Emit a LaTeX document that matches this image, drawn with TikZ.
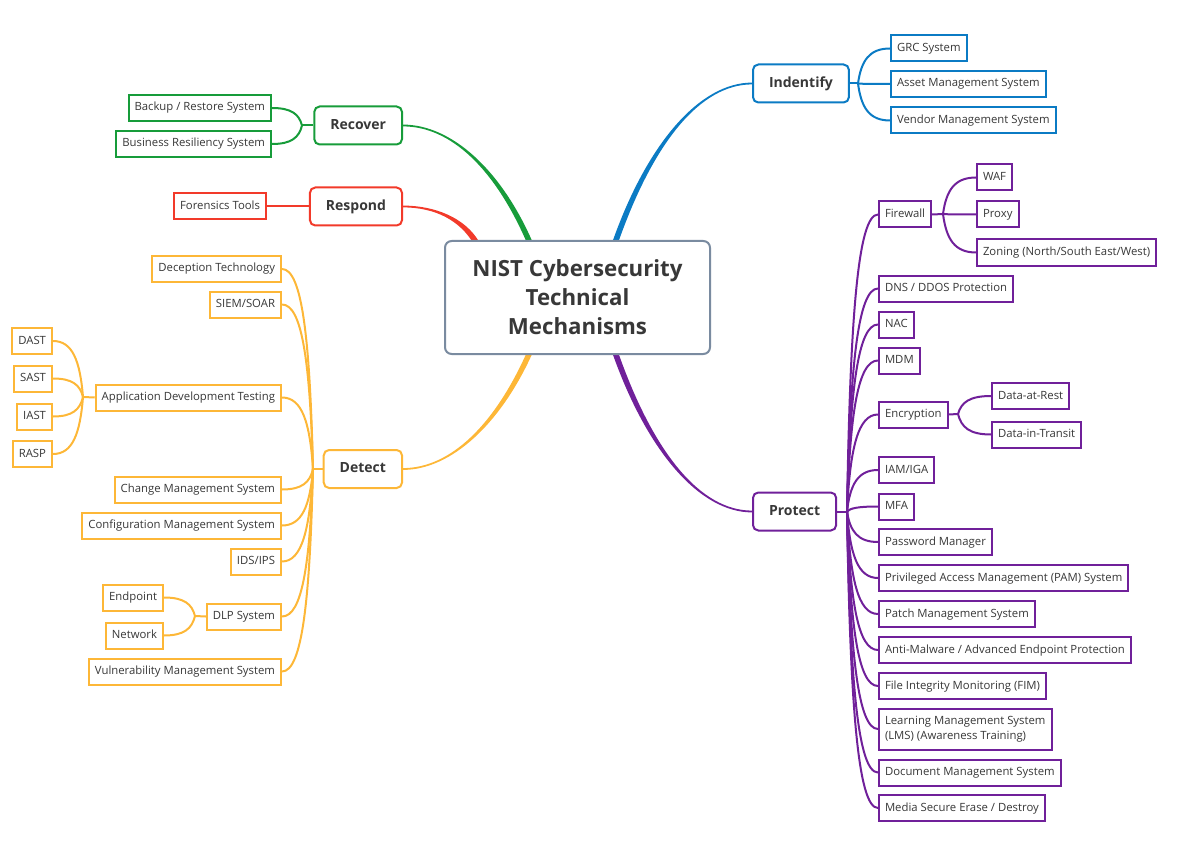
\documentclass[tikz,border=0pt]{standalone}
\usepackage{fontspec}
\setmainfont{Open Sans}
\usetikzlibrary{calc}
\pgfdeclarelayer{bg}
\pgfsetlayers{bg,main}
\definecolor{cblue}{HTML}{0B7BC4}
\definecolor{cpurp}{HTML}{70209A}
\definecolor{cgreen}{HTML}{179C3A}
\definecolor{cred}{HTML}{F23A2A}
\definecolor{corange}{HTML}{FDB737}
\definecolor{cgray}{HTML}{7A8BA0}
\definecolor{ctext}{HTML}{383838}
\newcommand\taper[7]{\fill[#1] ($(#2)+#6$) .. controls ($(#3)+#6$) and ($(#4)+#7$) .. ($(#5)+#7$) -- ($(#5)-#7$) .. controls ($(#4)-#7$) and ($(#3)-#6$) .. ($(#2)-#6$) -- cycle;}
\tikzset{
  subbase/.style={draw=#1, line width=1.5pt, rectangle, fill=white, text=ctext,
    font=\fontsize{8.5pt}{11.25pt}\selectfont, inner xsep=4.5pt, inner ysep=0pt, minimum height=19.5pt},
  sub/.style={subbase=#1, text height=6.3pt, text depth=1.8pt},
  topic/.style={draw=#1, line width=1.5pt, rounded corners=4pt, fill=white, text=ctext,
    font=\fontsize{10.5pt}{12pt}\selectfont\bfseries, inner xsep=12pt, inner ysep=0pt,
    minimum height=28.5pt, text height=7.7pt, text depth=2.2pt},
  conn/.style={draw=#1, line width=1.5pt},
  rbranch/.style={to path={let \p1=(\tikztostart), \p2=(\tikztotarget) in
    .. controls ({\x1+0.1*(\x2-\x1)},{\y2+0.35*(\y1-\y2)}) and ({\x1+0.35*(\x2-\x1)},\y2) .. (\tikztotarget)}},
}
\begin{document}
\begin{tikzpicture}[x=0.75pt,y=-0.75pt]
\useasboundingbox (0,0) rectangle (1200,863);
% central
\node[draw=cgray, line width=1.5pt, rounded corners=5pt, fill=white, minimum width=198.75pt,
  minimum height=84.75pt, align=center, text=ctext,
  font=\fontsize{16.7pt}{21.75pt}\selectfont\bfseries] (c) at (577.5,297.5)
  {NIST Cybersecurity\\Technical\\Mechanisms};
% topics
\node[topic=cblue, anchor=west] (idf) at (752,83.5) {Indentify};
\node[topic=cpurp, anchor=west] (prot) at (752,511.5) {Protect};
\node[topic=cgreen, anchor=east] (rec) at (403,125.5) {Recover};
\node[topic=cred, anchor=east] (resp) at (403,206.5) {Respond};
\node[topic=corange, anchor=east] (det) at (403,469) {Detect};
% stubs
\coordinate (idfs) at (858,83.5);
\coordinate (prots) at (847,511.5);
\coordinate (fws) at (943,214);
\coordinate (encs) at (958,414);
\coordinate (recs) at (302,125.5);
\coordinate (dets) at (313,469);
\coordinate (adts) at (83,397);
\coordinate (dlps) at (195,616);
% identify children
\node[sub=cblue, anchor=west] (grc) at (890,48.5) {GRC System};
\node[sub=cblue, anchor=west] (asset) at (890,84) {Asset Management System};
\node[sub=cblue, anchor=west] (vendor) at (890,120.5) {Vendor Management System};
% protect children
\node[sub=cpurp, anchor=west] (fw) at (878,214.5) {Firewall};
\node[sub=cpurp, anchor=west] (waf) at (976,177.5) {WAF};
\node[sub=cpurp, anchor=west] (proxy) at (976,214.5) {Proxy};
\node[sub=cpurp, anchor=west] (zon) at (976,252.5) {Zoning (North/South East/West)};
\node[sub=cpurp, anchor=west] (dns) at (878,288.5) {DNS / DDOS Protection};
\node[sub=cpurp, anchor=west] (nac) at (878,324.5) {NAC};
\node[sub=cpurp, anchor=west] (mdm) at (878,360.5) {MDM};
\node[sub=cpurp, anchor=west] (enc) at (878,414.5) {Encryption};
\node[sub=cpurp, anchor=west] (dar) at (991,396) {Data-at-Rest};
\node[sub=cpurp, anchor=west] (dit) at (991,434.5) {Data-in-Transit};
\node[sub=cpurp, anchor=west] (iam) at (878,470) {IAM/IGA};
\node[sub=cpurp, anchor=west] (mfa) at (878,506.5) {MFA};
\node[sub=cpurp, anchor=west] (pwm) at (878,542) {Password Manager};
\node[sub=cpurp, anchor=west] (pam) at (878,578) {Privileged Access Management (PAM) System};
\node[sub=cpurp, anchor=west] (patch) at (878,614) {Patch Management System};
\node[sub=cpurp, anchor=west] (am) at (878,650) {Anti-Malware / Advanced Endpoint Protection};
\node[sub=cpurp, anchor=west] (fim) at (878,686) {File Integrity Monitoring (FIM)};
\node[subbase=cpurp, anchor=west, align=left, minimum height=30.75pt] (lms) at (878,729)
  {Learning Management System\\(LMS) (Awareness Training)};
\node[sub=cpurp, anchor=west] (doc) at (878,772.5) {Document Management System};
\node[sub=cpurp, anchor=west] (media) at (878,808) {Media Secure Erase / Destroy};
% recover / respond children
\node[sub=cgreen, anchor=east] (bak) at (272,108) {Backup / Restore System};
\node[sub=cgreen, anchor=east] (bus) at (272,144) {Business Resiliency System};
\node[sub=cred, anchor=east] (for) at (267,206.5) {Forensics Tools};
% detect children
\node[sub=corange, anchor=east] (dec) at (282,269) {Deception Technology};
\node[sub=corange, anchor=east] (siem) at (282,304.5) {SIEM/SOAR};
\node[sub=corange, anchor=east] (adt) at (282,397.5) {Application Development Testing};
\node[sub=corange, anchor=east] (dast) at (53,341) {DAST};
\node[sub=corange, anchor=east] (sast) at (53,378.5) {SAST};
\node[sub=corange, anchor=east] (iast) at (53,416.5) {IAST};
\node[sub=corange, anchor=east] (rasp) at (53,454) {RASP};
\node[sub=corange, anchor=east] (chg) at (282,489.5) {Change Management System};
\node[sub=corange, anchor=east] (cfg) at (282,525.5) {Configuration Management System};
\node[sub=corange, anchor=east] (ids) at (282,561.5) {IDS/IPS};
\node[sub=corange, anchor=east] (dlp) at (282,616.5) {DLP System};
\node[sub=corange, anchor=east] (endp) at (164,597.5) {Endpoint};
\node[sub=corange, anchor=east] (net) at (164,635.5) {Network};
\node[sub=corange, anchor=east] (vuln) at (282,671.5) {Vulnerability Management System};
% branch control coordinates
\coordinate (b0) at ($(c.north)+(37.5,3)$);
\coordinate (b1) at ($(b0)+(35,-100)$);
\coordinate (b3) at (idf.west);
\coordinate (b2) at ($(b3)+(-52,0)$);
\coordinate (p0) at ($(c.south)+(37.5,-3)$);
\coordinate (p1) at ($(p0)+(35,100)$);
\coordinate (p3) at (prot.west);
\coordinate (p2) at ($(p3)+(-52,0)$);
\coordinate (g0) at ($(c.north)+(-47.5,3)$);
\coordinate (g1) at ($(g0)+(-32,-74)$);
\coordinate (g3) at (rec.east);
\coordinate (g2) at ($(g3)+(48,0)$);
\coordinate (o0) at ($(c.south)+(-47.5,-3)$);
\coordinate (o1) at ($(o0)+(-32,72)$);
\coordinate (o3) at (det.east);
\coordinate (o2) at ($(o3)+(48,0)$);
\coordinate (r0) at ($(c.north)+(-101,3)$);
\coordinate (r1) at ($(r0)+(-14,-24)$);
\coordinate (r3) at (resp.east);
\coordinate (r2) at ($(r3)+(32,0)$);
\begin{pgfonlayer}{bg}
\taper{cblue}{b0}{b1}{b2}{b3}{(3,0)}{(0,0.9)}
\taper{cpurp}{p0}{p1}{p2}{p3}{(-3,0)}{(0,0.9)}
\taper{cgreen}{g0}{g1}{g2}{g3}{(3,0)}{(0,-0.9)}
\taper{corange}{o0}{o1}{o2}{o3}{(-3,0)}{(0,-0.9)}
\taper{cred}{r0}{r1}{r2}{r3}{(2.6,-1.2)}{(0,-0.9)}
% identify
\draw[conn=cblue] (idf.east) -- (idfs);
\foreach \nm in {grc,asset,vendor} \draw[conn=cblue] (idfs) to[rbranch] (\nm.west);
% protect
\draw[conn=cpurp] (prot.east) -- (prots);
\foreach \nm in {fw,dns,nac,mdm,enc,iam,mfa,pwm,pam,patch,am,fim,lms,doc,media}
  \draw[conn=cpurp] (prots) to[rbranch] (\nm.west);
\draw[conn=cpurp] (fw.east) -- (fws);
\foreach \nm in {waf,proxy,zon} \draw[conn=cpurp] (fws) to[rbranch] (\nm.west);
\draw[conn=cpurp] (enc.east) -- (encs);
\foreach \nm in {dar,dit} \draw[conn=cpurp] (encs) to[rbranch] (\nm.west);
% recover / respond
\draw[conn=cgreen] (rec.west) -- (recs);
\foreach \nm in {bak,bus} \draw[conn=cgreen] (recs) to[rbranch] (\nm.east);
\draw[conn=cred] (resp.west) -- (for.east);
% detect
\draw[conn=corange] (det.west) -- (dets);
\foreach \nm in {dec,siem,adt,chg,cfg,ids,dlp,vuln}
  \draw[conn=corange] (dets) to[rbranch] (\nm.east);
\draw[conn=corange] (adt.west) -- (adts);
\foreach \nm in {dast,sast,iast,rasp} \draw[conn=corange] (adts) to[rbranch] (\nm.east);
\draw[conn=corange] (dlp.west) -- (dlps);
\foreach \nm in {endp,net} \draw[conn=corange] (dlps) to[rbranch] (\nm.east);
\end{pgfonlayer}
\end{tikzpicture}
\end{document}
